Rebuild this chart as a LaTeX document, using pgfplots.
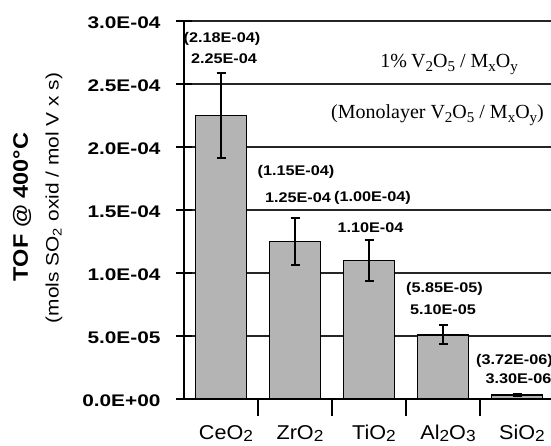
\documentclass[border=0pt]{standalone}
\usepackage{graphicx}
\usepackage{pgfplots}
\pgfplotsset{compat=1.18}
\usepackage{fontspec}
\setmainfont{Liberation Sans}
\newfontfamily\serif{Liberation Serif}
\definecolor{barfill}{RGB}{180,180,180}
\newcommand\W[2]{\scalebox{#1}[1]{#2}}
\newcommand\sub[1]{\raisebox{-0.12em}{\fontsize{0.8\dimexpr\fontdimen6\font\relax}{1em}\selectfont #1}}
\newcommand\ssub[1]{\raisebox{-0.2em}{\fontsize{0.75\dimexpr\fontdimen6\font\relax}{1em}\selectfont #1}}

\begin{document}
\begin{tikzpicture}
\useasboundingbox (0,0) rectangle (551pt,445pt);
\begin{axis}[
 at={(184pt,46pt)}, anchor=south west,
 width=370pt, height=378pt, scale only axis,
 xmin=-0.5, xmax=4.5, ymin=0, ymax=3e-4,
 axis x line*=bottom, axis y line*=left,
 axis line style={line width=1.4pt},
 /pgf/number format/assume math mode=true,
 xtick={0,1,2,3,4},
 xticklabels={\W{1.08}{CeO\sub{2}}, \W{1.08}{ZrO\sub{2}}, \W{1.08}{TiO\sub{2}}, \W{1.08}{Al\sub{2}O\sub{3}}, \W{1.08}{SiO\sub{2}}},
 minor xtick={0.5,1.5,2.5,3.5},
 every major x tick/.append style={draw=none},
 ytick={0,5e-5,1e-4,1.5e-4,2e-4,2.5e-4,3e-4},
 yticklabels={\W{1.24}{0.0E+00},\W{1.24}{5.0E-05},\W{1.24}{1.0E-04},\W{1.24}{1.5E-04},\W{1.24}{2.0E-04},\W{1.24}{2.5E-04},\W{1.24}{3.0E-04}},
 scaled y ticks=false,
 tick align=center,
 major tick length=16pt,
 minor tick length=17pt,
 tick style={line width=1.2pt, black},
 yticklabel style={font=\bfseries\fontsize{16.8}{18}\selectfont, xshift=-12pt, yshift=-2pt},
 xticklabel style={font=\fontsize{20}{22}\selectfont, anchor=base, yshift=-24pt, xshift=5pt},
 ymajorgrids,
 grid style={line width=1.3pt, black!85},
 ybar, bar width=0.69,
]
\addplot[fill=barfill, draw=black, line width=1.8pt,
  error bars/.cd, y dir=both, y explicit,
  error bar style={line width=2pt, black},
  error mark options={rotate=90, mark size=4.5pt, line width=2pt, black}]
 coordinates {
 (0,2.25e-4) +- (0,3.4e-5)
 (1,1.25e-4) +- (0,1.9e-5)
 (2,1.10e-4) +- (0,1.65e-5)
 (3,5.10e-5) +- (0,7.5e-6)
 (4,3.30e-6) +- (0,1.0e-6)
 };
\end{axis}
\begin{scope}[every node/.style={font=\bfseries\fontsize{14}{16}\selectfont, inner sep=0pt}]
\node at (222pt,406pt) {\W{1.16}{(2.18E-04)}};
\node at (224pt,386pt) {\W{1.16}{2.25E-04}};
\node at (296pt,273pt) {\W{1.16}{(1.15E-04)}};
\node at (298pt,247pt) {\W{1.16}{1.25E-04}};
\node at (372.5pt,247pt) {\W{1.16}{(1.00E-04)}};
\node at (370.5pt,217pt) {\W{1.16}{1.10E-04}};
\node at (444.5pt,156pt) {\W{1.16}{(5.85E-05)}};
\node at (443pt,135pt) {\W{1.16}{5.10E-05}};
\node at (514.5pt,84pt) {\W{1.16}{(3.72E-06)}};
\node at (518.5pt,66pt) {\W{1.16}{3.30E-06}};
\end{scope}
\node[font=\serif\fontsize{20}{22}\selectfont, inner sep=0pt, anchor=east] at (518pt,381pt) {1\%\kern-1pt\ V\ssub{2}O\ssub{5} / M\ssub{x}O\ssub{y}};
\node[font=\serif\fontsize{20}{22}\selectfont, inner sep=0pt] at (437.5pt,330pt) {(Monolayer V\ssub{2}O\ssub{5} / M\ssub{x}O\ssub{y})};
\node[rotate=90, font=\bfseries\fontsize{21}{23}\selectfont, inner sep=0pt] at (22pt,238pt) {\W{1.12}{TOF @ 400°C}};
\node[rotate=90, font=\fontsize{18}{20}\selectfont, inner sep=0pt] at (54pt,247pt) {\W{1.16}{(mols SO\textsubscript{2} oxid / mol V x s)}};
\end{tikzpicture}
\end{document}
